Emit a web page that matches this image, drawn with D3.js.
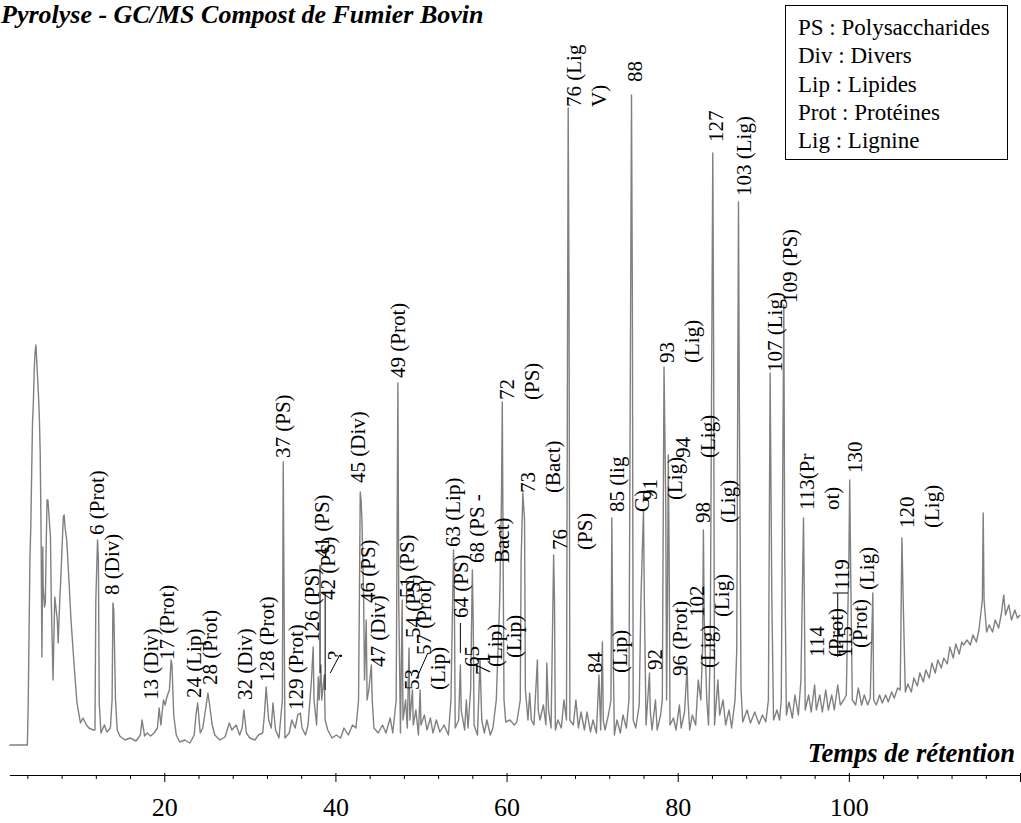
<!DOCTYPE html>
<html><head><meta charset="utf-8">
<script src="https://cdn.jsdelivr.net/npm/d3@7"></script>
<style>body{margin:0;background:#fff}svg{display:block}</style>
</head><body>
<svg id="chart" width="1021" height="823"></svg>
<script>
// Chromatogram: [retention time (min), abundance (arbitrary units)]
const chromatogram = [
[1.9,5],[4.0,5],[4.1,47],[4.3,192],[4.4,223],[4.6,327],[4.7,347],[4.8,380],[4.9,398],[5.0,405],[5.1,388],[5.3,355],[5.4,333],[5.5,297],[5.6,217],[5.7,93],[5.8,203],[5.85,163],[6.0,143],[6.1,147],[6.2,205],[6.3,250],[6.4,250],[6.7,213],[6.8,147],[7.0,70],[7.2,153],[7.5,130],[7.6,107],[7.8,153],[7.9,170],[8.2,233],[8.3,235],[8.4,223],[8.6,210],[8.9,163],[9.1,130],[9.5,80],[9.8,47],[10.2,27],[10.5,32],[10.9,25],[11.2,22],[11.7,20],[11.9,20],[12.0,150],[12.2,210],[12.3,190],[12.4,47],[12.6,17],[13.0,25],[13.3,18],[13.7,22],[13.9,50],[14.0,147],[14.1,140],[14.3,50],[14.5,20],[14.8,14],[15.4,10],[16.0,12],[16.7,9],[17.2,15],[17.4,30],[17.7,14],[18.0,17],[18.4,14],[18.8,17],[19.2,22],[19.4,42],[19.6,25],[19.9,50],[20.1,45],[20.3,53],[20.6,60],[20.8,90],[20.9,85],[21.1,35],[21.4,15],[21.8,8],[22.4,10],[23.0,7],[23.5,15],[23.7,35],[23.9,47],[24.2,17],[24.5,22],[24.9,45],[25.1,57],[25.3,45],[25.6,25],[25.9,15],[26.5,10],[27.1,13],[27.6,27],[27.9,20],[28.4,25],[28.8,15],[29.1,22],[29.3,40],[29.6,17],[30.0,12],[30.6,10],[31.0,15],[31.5,17],[31.7,35],[31.9,63],[32.2,30],[32.5,22],[32.7,47],[33.0,20],[33.4,12],[33.8,50],[33.9,288],[34.0,150],[34.1,12],[34.6,17],[34.9,30],[35.3,22],[35.6,35],[35.9,37],[36.1,22],[36.5,15],[36.8,25],[37.2,70],[37.4,103],[37.5,50],[37.8,25],[38.0,73],[38.1,50],[38.3,85],[38.4,50],[38.7,75],[38.8,30],[39.1,20],[39.6,12],[40.1,15],[40.6,12],[41.0,22],[41.5,15],[42.0,25],[42.4,22],[42.7,50],[42.8,150],[42.9,258],[43.0,250],[43.1,230],[43.3,150],[43.4,70],[43.6,130],[43.7,50],[43.9,60],[44.2,85],[44.3,50],[44.5,22],[45.0,17],[45.5,25],[45.9,17],[46.4,32],[46.7,17],[47.1,50],[47.3,367],[47.4,150],[47.6,17],[47.8,150],[47.9,30],[48.2,50],[48.4,22],[48.6,102],[48.7,30],[49.0,60],[49.1,25],[49.4,40],[49.7,15],[49.9,60],[50.0,25],[50.4,35],[50.7,20],[51.1,32],[51.4,17],[51.8,30],[52.2,18],[52.7,25],[53.2,15],[53.5,50],[53.8,200],[53.9,150],[54.0,22],[54.4,30],[54.6,85],[54.7,40],[55.1,20],[55.3,50],[55.5,22],[55.8,60],[56.0,180],[56.1,130],[56.2,25],[56.6,15],[56.9,90],[57.1,30],[57.4,17],[57.7,30],[58.1,15],[58.4,22],[58.8,50],[59.0,100],[59.2,150],[59.4,250],[59.5,348],[59.6,190],[59.7,50],[59.9,28],[60.4,30],[60.9,25],[61.2,28],[61.6,50],[61.7,190],[61.9,257],[62.1,230],[62.2,60],[62.5,30],[62.7,57],[62.9,30],[63.2,25],[63.6,90],[63.7,40],[63.9,30],[64.3,45],[64.6,25],[64.7,87],[64.9,40],[65.2,22],[65.5,195],[65.6,150],[65.7,20],[66.0,30],[66.4,22],[66.7,50],[67.0,30],[67.2,642],[67.3,450],[67.4,30],[67.8,25],[68.1,50],[68.4,22],[68.7,38],[69.1,20],[69.4,38],[69.8,18],[70.1,30],[70.5,17],[70.8,75],[71.0,20],[71.2,108],[71.3,30],[71.5,20],[71.9,35],[72.2,50],[72.3,232],[72.4,130],[72.6,15],[72.9,30],[73.3,17],[73.6,35],[74.0,22],[74.3,50],[74.6,655],[74.7,450],[74.8,30],[75.1,22],[75.5,45],[75.7,150],[76.0,240],[76.1,150],[76.3,25],[76.7,77],[76.8,38],[77.0,20],[77.4,50],[77.6,20],[78.0,35],[78.2,50],[78.4,383],[78.6,250],[78.7,50],[78.8,150],[78.9,295],[79.0,190],[79.1,25],[79.5,32],[79.8,20],[80.2,45],[80.4,22],[80.8,38],[81.1,83],[81.2,50],[81.4,20],[81.7,35],[82.1,25],[82.4,70],[82.7,50],[82.9,100],[83.0,220],[83.1,130],[83.4,50],[83.6,25],[83.8,100],[84.1,597],[84.2,400],[84.3,25],[84.7,70],[84.9,35],[85.3,50],[85.6,25],[86.0,40],[86.3,22],[86.7,50],[86.9,100],[87.1,548],[87.2,350],[87.4,60],[87.6,28],[88.1,40],[88.5,27],[89.0,38],[89.5,26],[89.9,35],[90.3,28],[90.6,50],[90.8,377],[91.0,150],[91.2,30],[91.6,40],[91.9,30],[92.1,50],[92.4,445],[92.5,200],[92.7,35],[93.0,48],[93.4,32],[93.7,55],[94.1,35],[94.4,70],[94.7,232],[94.8,150],[94.9,40],[95.3,55],[95.6,38],[96.0,65],[96.2,40],[96.6,55],[96.9,38],[97.3,60],[97.6,40],[98.0,55],[98.3,40],[98.7,65],[99.0,45],[99.4,50],[99.7,55],[100.0,190],[100.1,270],[100.2,190],[100.4,50],[100.8,45],[101.1,62],[101.5,45],[101.8,55],[102.2,45],[102.5,52],[102.8,157],[102.9,50],[103.2,45],[103.6,55],[103.9,47],[104.3,55],[104.6,48],[105.0,58],[105.3,52],[105.7,62],[106.0,60],[106.2,212],[106.4,130],[106.6,58],[106.9,66],[107.3,58],[107.6,72],[108.0,64],[108.3,77],[108.7,68],[109.0,80],[109.4,72],[109.7,87],[110.1,77],[110.4,90],[110.8,82],[111.1,92],[111.5,86],[111.8,103],[112.2,92],[112.5,106],[112.9,96],[113.2,108],[113.4,105],[113.8,110],[114.2,105],[114.5,115],[114.9,108],[115.2,120],[115.6,150],[115.7,237],[115.8,150],[116.1,118],[116.4,125],[116.8,118],[117.1,130],[117.5,122],[117.8,135],[118.1,155],[118.3,135],[118.7,145],[119.0,130],[119.4,140],[119.7,132],[120.0,135]
];

// Peak annotations: text lines, retention time and abundance where the label starts
const peakLabels = [
  {lines:["6 (Prot)"], t:12.1, a:215},
  {lines:["8 (Div)"], t:13.9, a:155},
  {lines:["13 (Div)"], t:18.4, a:50},
  {lines:["17 (Prot)"], t:20.3, a:90},
  {lines:["24 (Lip)"], t:23.5, a:52},
  {lines:["28 (Prot)"], t:25.3, a:65},
  {lines:["32 (Div)"], t:29.4, a:50},
  {lines:["128 (Prot)"], t:32.0, a:68},
  {lines:["37 (PS)"], t:33.9, a:292},
  {lines:["129 (Prot)"], t:35.4, a:40},
  {lines:["126 (PS)"], t:37.3, a:108},
  {lines:["41 (PS)"], t:38.4, a:192},
  {lines:["42 (PS)"], t:39.1, a:150},
  {lines:["?"], t:39.9, a:90},
  {lines:["45 (Div)"], t:42.6, a:267},
  {lines:["46 (PS)"], t:43.8, a:147},
  {lines:["47 (Div)"], t:45.0, a:83},
  {lines:["49 (Prot)"], t:47.3, a:372},
  {lines:["51 (PS)"], t:48.4, a:152},
  {lines:["54 (PS)"], t:49.1, a:112},
  {lines:["57 (Prot)"], t:50.4, a:95},
  {lines:["53"], t:49.0, a:60},
  {lines:["(Lip)"], t:52.0, a:60},
  {lines:["63 (Lip)"], t:53.7, a:203},
  {lines:["64 (PS)"], t:54.7, a:132},
  {lines:["68 (PS -","Bact)"], t:56.5, a:187},
  {lines:["65"], t:56.0, a:83},
  {lines:["71"], t:57.2, a:75},
  {lines:["(Lip)"], t:58.7, a:83},
  {lines:["(Lip)"], t:60.9, a:92},
  {lines:["72","(PS)"], t:60.0, a:350},
  {lines:["73","(Bact)"], t:62.5, a:257},
  {lines:["76","(PS)"], t:66.2, a:200},
  {lines:["76 (Lig","V)"], t:67.9, a:643},
  {lines:["88"], t:75.0, a:668},
  {lines:["84","(Lip)"], t:70.3, a:77},
  {lines:["85 (lig","G)"], t:72.9, a:238},
  {lines:["91","(Lig)"], t:76.8, a:250},
  {lines:["92"], t:77.3, a:80},
  {lines:["93","(Lig)"], t:78.7, a:387},
  {lines:["94","(Lig)"], t:80.6, a:292},
  {lines:["96 (Prot)"], t:80.3, a:74},
  {lines:["98","(Lig)"], t:83.0, a:227},
  {lines:["102","(Lig)"], t:82.2, a:133},
  {lines:["(Lig)"], t:83.5, a:82},
  {lines:["127"], t:84.5, a:608},
  {lines:["103 (Lig)"], t:87.8, a:554},
  {lines:["107 (Lig)"], t:91.4, a:378},
  {lines:["109 (PS)"], t:93.1, a:447},
  {lines:["113(Pr","ot)"], t:95.1, a:240},
  {lines:["130"], t:100.7, a:277},
  {lines:["119","(Lig)"], t:99.2, a:160},
  {lines:["114"], t:96.3, a:93},
  {lines:["(Prot)"], t:98.5, a:93},
  {lines:["115"], t:99.5, a:93},
  {lines:["(Prot)"], t:101.3, a:102},
  {lines:["120","(Lig)"], t:106.8, a:222}
];

// Leader lines: [t1, a1, t2, a2]
const leaderLines = [
  [38.2,185,38.2,77],
  [38.8,158,38.8,60],
  [39.4,77,40.5,95],
  [49.5,72,50.8,97],
  [54.6,127,54.6,97],
  [98.1,157,99.9,157],
  [98.7,157,98.7,93]
];

const legendItems = ["PS : Polysaccharides","Div : Divers","Lip : Lipides","Prot : Protéines","Lig : Lignine"];
const majorTicks = [20,40,60,80,100,120];
const majorTickLabels = ["20","40","60","80","100",""];
const minorTicks = [4,8,12,16,24,28,32,36,44,48,52,56,64,68,72,76,84,88,92,96,104,108,112,116];
const titleText = "Pyrolyse - GC/MS Compost de Fumier Bovin";
const axisTitleText = "Temps de rétention";

const serif = "'Liberation Serif','Times New Roman',Times,serif";
const svg = d3.select("#chart");

const x = d3.scaleLinear().domain([1.9,120]).range([9.4,1020]);
const y = d3.scaleLinear().domain([0,660]).range([750,90]);

// chromatogram trace
svg.append("path")
  .datum(chromatogram)
  .attr("fill","none")
  .attr("stroke","#808080")
  .attr("stroke-width",1.4)
  .attr("stroke-linejoin","round")
  .attr("d", d3.line().x(d=>x(d[0])).y(d=>y(d[1])));

// axis
const axisY = 775;
const gMinor = svg.append("g").attr("transform",`translate(0,${axisY})`)
  .call(d3.axisBottom(x).tickValues(minorTicks).tickSize(4).tickSizeOuter(0).tickFormat(""));
gMinor.select(".domain").remove();
const gMajor = svg.append("g").attr("transform",`translate(0,${axisY})`)
  .call(d3.axisBottom(x).tickValues(majorTicks).tickSize(7).tickSizeOuter(0).tickPadding(16)
    .tickFormat((d,i)=>majorTickLabels[i]));
gMajor.selectAll("text").attr("font-family",serif).attr("font-size",26).attr("fill","#000");
gMajor.selectAll("line").attr("stroke","#000").attr("y1",-2);
gMinor.selectAll("line").attr("stroke","#000");
gMajor.select(".domain").attr("stroke","#000");

// leader lines
svg.append("g").selectAll("line").data(leaderLines).join("line")
  .attr("x1",d=>x(d[0])).attr("y1",d=>y(d[1]))
  .attr("x2",d=>x(d[2])).attr("y2",d=>y(d[3]))
  .attr("stroke","#000").attr("stroke-width",1);

// peak labels (rotated)
const lab = svg.append("g").selectAll("g").data(peakLabels).join("g")
  .attr("transform",d=>`translate(${x(d.t)},${y(d.a)}) rotate(-90)`);
lab.each(function(d){
  const g = d3.select(this);
  d.lines.forEach((s,i)=>{
    g.append("text")
      .attr("x",0).attr("y",i*25)
      .attr("dominant-baseline","central")
      .attr("font-family",serif).attr("font-size",21).attr("fill","#000")
      .text(s);
  });
});

// title
svg.append("text").attr("x",1).attr("y",23)
  .attr("font-family",serif).attr("font-size",26).attr("font-weight","bold").attr("font-style","italic")
  .text(titleText);

// axis title
svg.append("text").attr("x",1015).attr("y",762).attr("text-anchor","end")
  .attr("font-family",serif).attr("font-size",26.6).attr("font-weight","bold").attr("font-style","italic")
  .text(axisTitleText);

// legend box
const lg = svg.append("g");
lg.append("rect").attr("x",785.5).attr("y",5.5).attr("width",222).attr("height",154)
  .attr("fill","#fff").attr("stroke","#000").attr("stroke-width",1);
lg.selectAll("text").data(legendItems).join("text")
  .attr("x",798).attr("y",(d,i)=>35+i*28.3)
  .attr("font-family",serif).attr("font-size",23).attr("fill","#000")
  .text(d=>d);
</script>
</body></html>
